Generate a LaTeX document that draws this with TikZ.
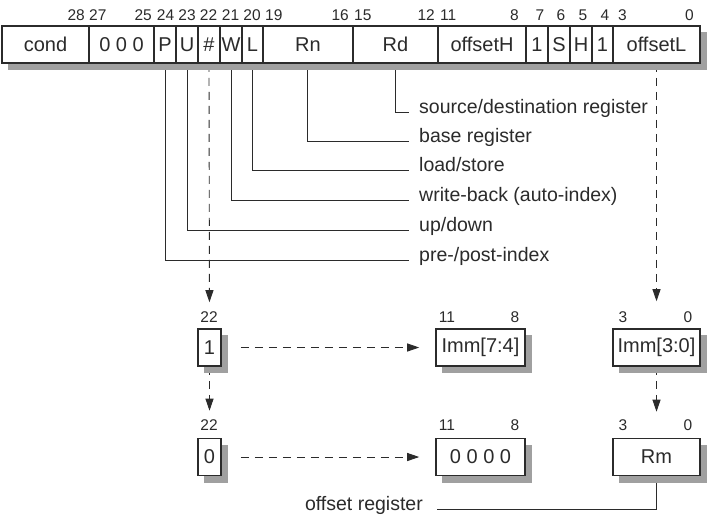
\documentclass[tikz,border=0pt]{standalone}
\usepackage{fontspec}
\setmainfont{Liberation Sans}
\usetikzlibrary{arrows.meta}
\definecolor{ink}{HTML}{2B2B2B}
\definecolor{shadowgray}{RGB}{160,160,160}
\newcommand\fldfont{\fontsize{20}{24}\selectfont}
\newcommand\bitfont{\fontsize{15.5}{18}\selectfont}
\newcommand\lblfont{\fontsize{19.5}{23}\selectfont}
\pgfdeclarelayer{bglayer}
\pgfdeclarelayer{connlayer}
\pgfsetlayers{bglayer,connlayer,main}
\begin{document}
\begin{tikzpicture}[x=1pt,y=-1pt,
  cell/.style={draw=ink,line width=1.6pt,fill=white,inner sep=0pt,minimum height=37pt,font=\fldfont,text=ink},
  shadowbox/.style={fill=shadowgray,draw=none},
  bit/.style={font=\bitfont,inner sep=0pt,text=ink},
  lbl/.style={font=\lblfont,inner sep=0pt,text=ink,text height=1.5ex,text depth=0.8ex},
  conn/.style={draw=ink,line width=0.9pt},
  dashconn/.style={draw=ink,line width=0.9pt,dash pattern=on 8pt off 6pt},
  tip/.style={-{Triangle[length=12pt,width=8pt]}}]
\begin{pgfonlayer}{bglayer}
\fill[white] (0,0) rectangle (711,523);
\end{pgfonlayer}
\useasboundingbox (0,0) rectangle (711,523);

% drop shadows
\fill[shadowbox] (8,32) rectangle (706.5,70);
\fill[shadowbox] (204,335) rectangle (227.5,373);
\fill[shadowbox] (204,444.5) rectangle (227.5,482.5);
\fill[shadowbox] (442,335) rectangle (531.5,373);
\fill[shadowbox] (442,444.5) rectangle (531.5,482.5);
\fill[shadowbox] (619,335) rectangle (706.5,373);
\fill[shadowbox] (619,444.5) rectangle (706.5,482.5);

% instruction word
\node[cell,minimum width=698pt] (wordbox) at (351,44.5) {};
\node[cell,minimum width=87pt] (cond) at (45.5,44.5) {cond};
\node[cell,minimum width=65pt] (zeros) at (121.5,44.5) {0 0 0};
\node[cell,minimum width=22pt] (P) at (165,44.5) {P};
\node[cell,minimum width=22pt] (U) at (187,44.5) {U};
\node[cell,minimum width=22pt] (hash) at (209,44.5) {\#};
\node[cell,minimum width=22pt] (W) at (231,44.5) {W};
\node[cell,minimum width=21pt] (L) at (252.5,44.5) {L};
\node[cell,minimum width=90pt] (Rn) at (308,44.5) {Rn};
\node[cell,minimum width=85pt] (Rd) at (395.5,44.5) {Rd};
\node[cell,minimum width=88pt] (offH) at (482,44.5) {offsetH};
\node[cell,minimum width=22pt] (oneA) at (537,44.5) {1};
\node[cell,minimum width=22pt] (S) at (559,44.5) {S};
\node[cell,minimum width=22pt] (H) at (581,44.5) {H};
\node[cell,minimum width=21pt] (oneB) at (602.5,44.5) {1};
\node[cell,minimum width=87pt] (offL) at (656.5,44.5) {offsetL};

% bit numbers
\node[bit,anchor=east] (n28) at (85,15) {28};
\node[bit,anchor=west] (n27) at (89,15) {27};
\node[bit,anchor=east] (n25) at (152,15) {25};
\node[bit] (n24) at (165.5,15) {24};
\node[bit] (n23) at (187,15) {23};
\node[bit] (n22) at (208.5,15) {22};
\node[bit] (n21) at (230.5,15) {21};
\node[bit] (n20) at (252,15) {20};
\node[bit,anchor=west] (n19) at (265,15) {19};
\node[bit,anchor=east] (n16) at (349,15) {16};
\node[bit,anchor=west] (n15) at (354,15) {15};
\node[bit,anchor=east] (n12) at (435,15) {12};
\node[bit,anchor=west] (n11) at (440,15) {11};
\node[bit,anchor=east] (n8) at (519,15) {8};
\node[bit] (n7) at (540,15) {7};
\node[bit] (n6) at (561,15) {6};
\node[bit] (n5) at (583,15) {5};
\node[bit] (n4) at (605,15) {4};
\node[bit,anchor=west] (n3) at (618,15) {3};
\node[bit,anchor=east] (n0) at (694,15) {0};

% field labels
\node[lbl,anchor=west] (lsd) at (419,112) {source/destination register};
\node[lbl,anchor=west] (lbase) at (419,141) {base register};
\node[lbl,anchor=west] (lls) at (419,170) {load/store};
\node[lbl,anchor=west] (lwb) at (419,200) {write-back (auto-index)};
\node[lbl,anchor=west] (lud) at (419,230) {up/down};
\node[lbl,anchor=west] (lpp) at (419,260) {pre-/post-index};

% lower boxes
\node[cell,minimum width=23pt] (bone) at (209.5,347.5) {1};
\node[cell,minimum width=23pt] (bzero) at (209.5,457) {0};
\node[cell,minimum width=89pt] (imhi) at (480.5,347.5) {Imm[7:4]};
\node[cell,minimum width=89pt] (zhi) at (480.5,457) {0 0 0 0};
\node[cell,minimum width=87pt] (imlo) at (656.5,347.5) {Imm[3:0]};
\node[cell,minimum width=87pt] (rm) at (656.5,457) {Rm};

\node[bit] (k22a) at (209,317) {22};
\node[bit] (k22b) at (209,425) {22};
\node[bit] (k11a) at (447,317) {11};
\node[bit] (k8a) at (515,317) {8};
\node[bit] (k11b) at (447,425) {11};
\node[bit] (k8b) at (515,425) {8};
\node[bit] (k3a) at (623,317) {3};
\node[bit] (k0a) at (688,317) {0};
\node[bit] (k3b) at (623,425) {3};
\node[bit] (k0b) at (688,425) {0};

\node[lbl,anchor=east] (offreg) at (423,509) {offset register};

% connectors (behind boxes and shadows)
\begin{pgfonlayer}{connlayer}
\draw[conn,shorten >=10pt] (Rd.south) |- (lsd.west);
\draw[conn,shorten >=10pt] ([xshift=-1pt]Rn.south) |- (lbase.west);
\draw[conn,shorten >=10pt] (L.south) |- (lls.west);
\draw[conn,shorten >=10pt] (W.south) |- (lwb.west);
\draw[conn,shorten >=10pt] (U.south) |- (lud.west);
\draw[conn,shorten >=10pt] (P.south) |- (lpp.west);
\draw[dashconn,tip,shorten >=26pt] (hash.south) -- (bone.north);
\draw[dashconn,tip,shorten >=27pt] (bone.south) -- (bzero.north);
\draw[dashconn,tip,shorten >=27pt] (offL.south) -- (imlo.north);
\draw[dashconn,tip,shorten >=26pt] (imlo.south) -- (rm.north);
\draw[dashconn,tip,shorten <=19pt,shorten >=16pt] (bone.east) -- (imhi.west);
\draw[dashconn,tip,shorten <=19pt,shorten >=16pt] (bzero.east) -- (zhi.west);
\draw[conn,shorten >=14pt] (rm.south) |- (offreg.east);
\end{pgfonlayer}
\end{tikzpicture}
\end{document}
